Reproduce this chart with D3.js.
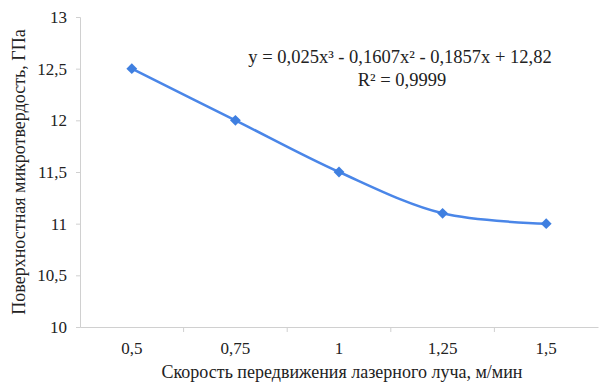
<!DOCTYPE html>
<html>
<head>
<meta charset="utf-8">
<script src="https://cdn.jsdelivr.net/npm/d3@7"></script>
<style>
  body { margin: 0; background: #fff; }
  text { font-family: "Liberation Serif", "Times New Roman", serif; }
</style>
</head>
<body>
<svg id="chart" width="599" height="383"></svg>
<script>
const speeds = ['0,5', '0,75', '1', '1,25', '1,5'];
const hardness = [12.5, 12.0, 11.5, 11.1, 11.0];
const yTicks = [10, 10.5, 11, 11.5, 12, 12.5, 13];
const equation = 'y = 0,025x³ - 0,1607x² - 0,1857x + 12,82';
const rSquared = 'R² = 0,9999';

const points = speeds.map((s, i) => ({speed: s, value: hardness[i]}));

const margin = {top: 17, right: 1, bottom: 56, left: 80};
const width = 599 - margin.left - margin.right;
const height = 383 - margin.top - margin.bottom;

const svg = d3.select('#chart');
const g = svg.append('g')
    .attr('transform', 'translate(' + margin.left + ',' + margin.top + ')');

const x = d3.scaleBand()
    .domain(speeds)
    .range([0, width]);

const y = d3.scaleLinear()
    .domain([10, 13])
    .range([height, 0]);

/* y axis */
const yAxis = g.append('g')
    .call(d3.axisLeft(y).tickValues(yTicks).tickSize(4).tickPadding(9)
        .tickFormat(d => String(d).replace('.', ',')))
    .attr('font-family', null);
yAxis.select('.domain').attr('stroke', '#d0d0d0');
yAxis.selectAll('.tick line').attr('stroke', '#d0d0d0');
yAxis.selectAll('.tick text').attr('font-size', 17).attr('fill', '#222');

/* x axis */
const xAxis = g.append('g')
    .attr('transform', 'translate(0,' + height + ')')
    .call(d3.axisBottom(x).tickSize(0).tickPadding(15))
    .attr('font-family', null);
xAxis.select('.domain').attr('stroke', '#d0d0d0');
xAxis.selectAll('.tick text').attr('font-size', 17).attr('fill', '#222');

/* category separators */
g.append('g')
    .selectAll('line')
    .data(speeds.slice(1))
    .enter().append('line')
    .attr('x1', d => x(d))
    .attr('x2', d => x(d))
    .attr('y1', height)
    .attr('y2', height + 5)
    .attr('stroke', '#d0d0d0');

/* axis titles */
svg.append('text')
    .attr('x', 342)
    .attr('y', 378)
    .attr('text-anchor', 'middle')
    .attr('font-size', 18)
    .attr('fill', '#222')
    .text('Скорость передвижения лазерного луча, м/мин');

svg.append('text')
    .attr('transform', 'translate(25,' + (margin.top + height / 2) + ') rotate(-90)')
    .attr('text-anchor', 'middle')
    .attr('font-size', 18)
    .attr('fill', '#222')
    .text('Поверхностная микротвердость, ГПа');

/* line */
const line = d3.line()
    .x(d => x(d.speed) + x.bandwidth() / 2)
    .y(d => y(d.value))
    .curve(d3.curveCatmullRom.alpha(0.5));

g.append('path')
    .datum(points)
    .attr('fill', 'none')
    .attr('stroke', '#4a86e8')
    .attr('stroke-width', 2.5)
    .attr('d', line);

/* diamond markers */
g.selectAll('.dot')
    .data(points)
    .enter().append('path')
    .attr('class', 'dot')
    .attr('transform', d => 'translate(' + (x(d.speed) + x.bandwidth() / 2) + ',' + y(d.value) + ')')
    .attr('d', d3.symbol().type(d3.symbolDiamond2).size(75))
    .attr('fill', '#3f7fe0');

/* trendline equation */
svg.append('text')
    .attr('x', 400)
    .attr('y', 63)
    .attr('text-anchor', 'middle')
    .attr('font-size', 18.5)
    .attr('fill', '#222')
    .text(equation);

svg.append('text')
    .attr('x', 402)
    .attr('y', 86)
    .attr('text-anchor', 'middle')
    .attr('font-size', 18.5)
    .attr('fill', '#222')
    .text(rSquared);
</script>
</body>
</html>
